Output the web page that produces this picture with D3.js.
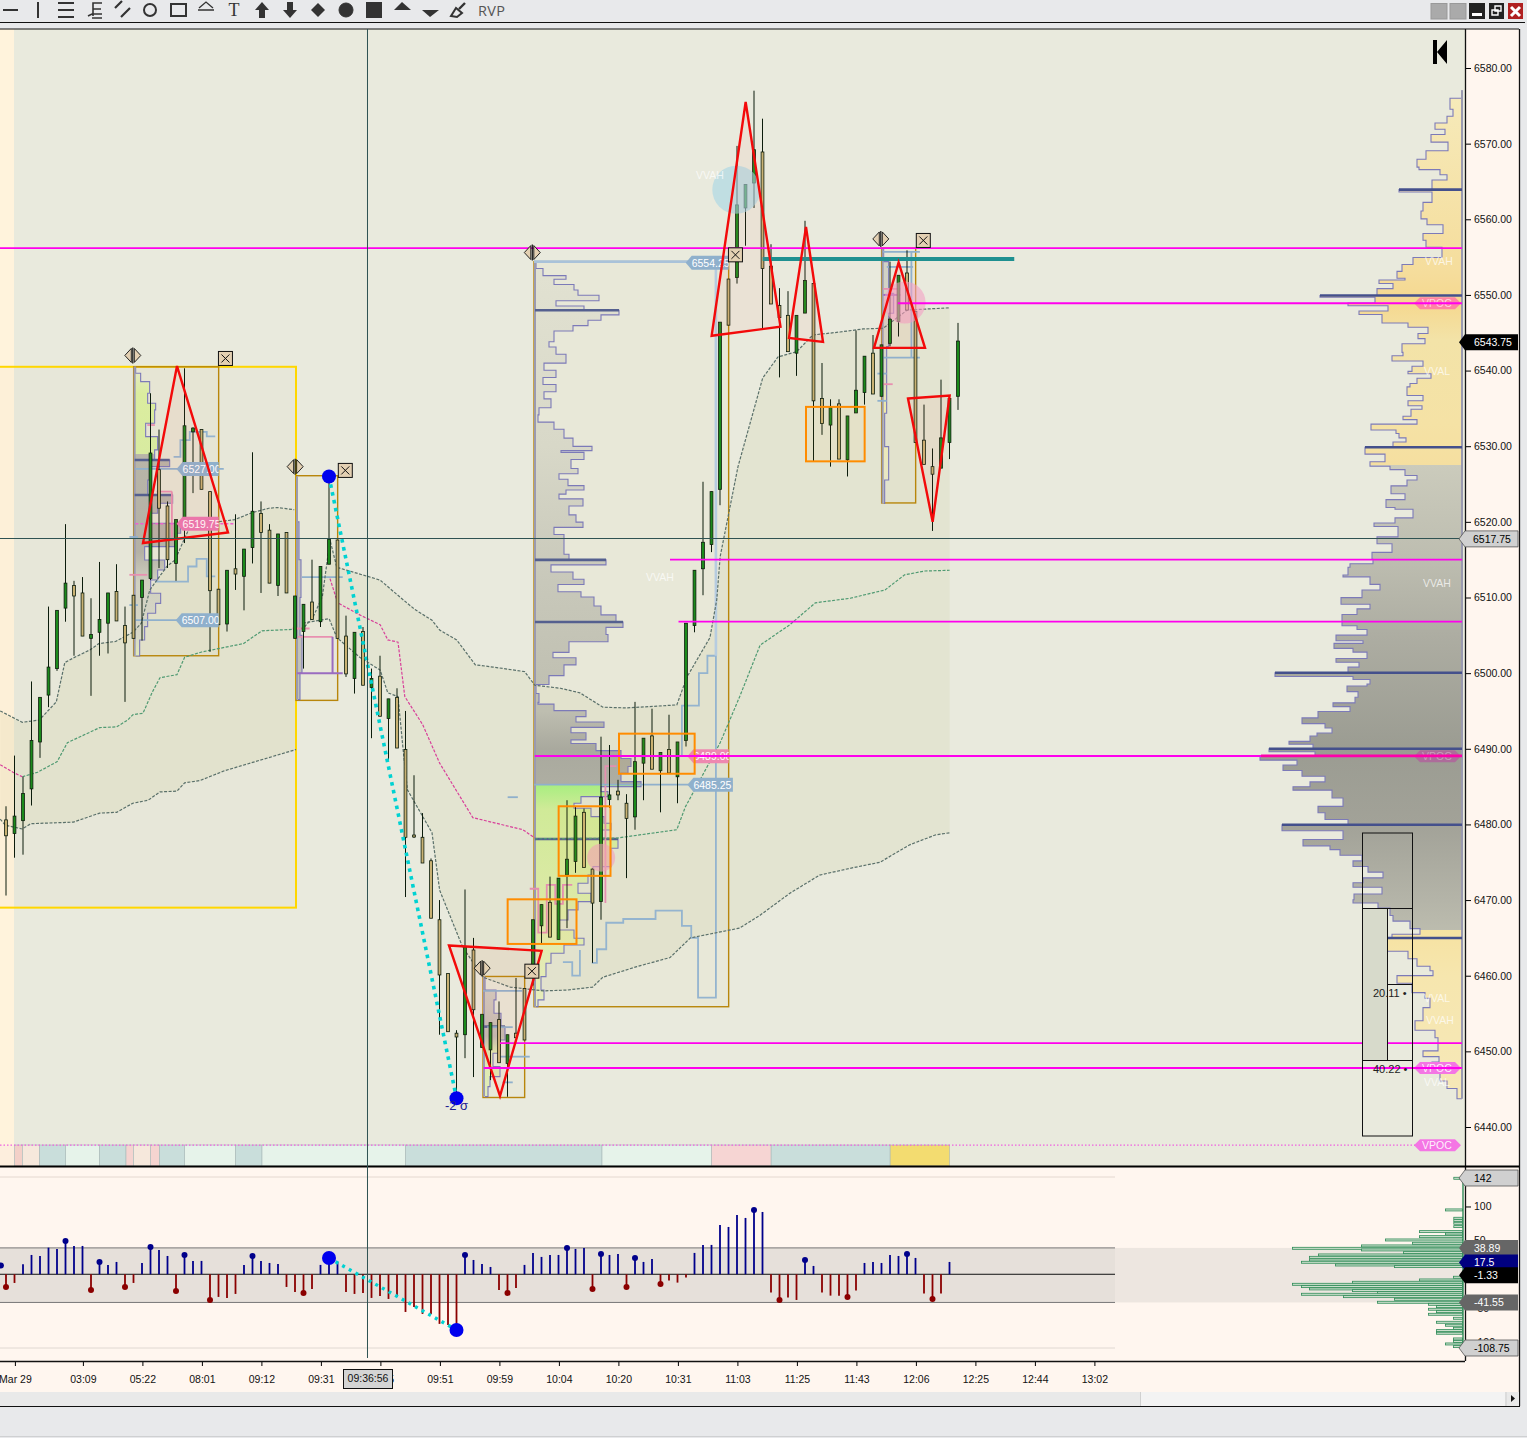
<!DOCTYPE html>
<html><head><meta charset="utf-8">
<script src="https://cdn.jsdelivr.net/npm/d3@7"></script>
<style>html,body{margin:0;padding:0;background:#e8e9eb;overflow:hidden}svg{display:block}text{font-family:"Liberation Sans",Arial,sans-serif}</style>
</head><body><div id="chart"></div>
<script>
// ---------- DATA ----------
const candleHigh=[6482.4,6489.1,6486.3,6498.9,6496.8,6508.8,6508.3,6519.7,6512.2,6512.7,
6509.9,6514.7,6510.6,6514.4,6508.8,6510.3,6512.3,6537.0,6532.2,6522.7,
6520.3,6540.3,6532.5,6532.2,6524.0,6511.1,6513.6,6521.0,6516.4,6529.2,
6522.7,6519.7,6518.4,6518.6,6510.2,6509.1,6515.0,6514.1,6526.0,6517.6,
6507.6,6505.4,6506.1,6500.6,6502.3,6496.6,6498.0,6495.0,6486.5,6481.5,
6475.5,6470.0,6460.3,6452.8,6471.4,6465.0,6454.9,6453.8,6456.6,6452.2,
6459.7,6458.3,6467.4,6469.4,6473.1,6472.9,6483.2,6482.4,6482.1,6474.2,
6491.6,6490.5,6485.9,6484.0,6496.2,6491.4,6495.3,6489.5,6494.5,6490.9,
6506.6,6513.6,6525.3,6524.0,6546.4,6552.1,6569.7,6564.6,6577.0,6573.3,
6556.7,6550.9,6550.5,6547.3,6559.8,6551.5,6541.0,6536.2,6536.2,6534.0,
6545.3,6541.9,6544.7,6543.4,6554.4,6552.6,6555.9,6547.8,6535.5,6529.7,
6538.8,6536.3,6546.3];
const candleBodyTop=[6480.6,6481.1,6484.1,6491.1,6496.8,6500.8,6508.3,6511.9,6511.6,6510.6,
6505.1,6507.1,6510.6,6510.8,6506.3,6510.3,6512.3,6529.1,6526.9,6522.1,
6520.3,6532.7,6532.4,6532.2,6524.0,6511.1,6513.6,6513.8,6516.4,6521.4,
6521.1,6518.9,6518.4,6518.6,6510.2,6509.1,6509.4,6514.1,6517.7,6517.6,
6504.9,6505.4,6505.5,6499.3,6499.6,6496.6,6496.8,6489.9,6478.6,6478.3,
6475.2,6467.4,6460.3,6452.4,6463.8,6463.4,6454.9,6453.8,6454.2,6452.2,
6452.4,6458.3,6467.4,6469.4,6469.7,6472.9,6475.4,6481.1,6481.6,6474.1,
6483.6,6483.9,6484.4,6482.8,6488.3,6491.4,6491.7,6489.5,6489.9,6490.9,
6506.6,6513.6,6517.3,6524.0,6546.4,6552.1,6561.9,6564.6,6569.2,6568.9,
6553.8,6548.6,6547.3,6547.3,6551.9,6551.5,6536.3,6535.1,6535.6,6534.0,
6537.4,6541.9,6542.3,6543.4,6546.8,6552.6,6552.9,6547.8,6530.8,6527.3,
6531.1,6536.3,6543.9];
const candleBodyBottom=[6478.5,6478.8,6480.5,6484.7,6490.9,6497.1,6500.6,6508.6,6510.2,6504.9,
6504.6,6505.4,6506.6,6506.9,6504.0,6504.6,6510.0,6512.5,6521.8,6515.0,
6514.5,6520.5,6531.9,6524.3,6510.9,6506.4,6506.5,6513.1,6512.8,6516.6,
6518.6,6511.9,6511.6,6510.6,6504.6,6505.5,6507.1,6506.8,6514.4,6504.6,
6499.9,6499.3,6498.4,6498.1,6494.3,6494.0,6490.1,6478.3,6478.5,6474.9,
6467.6,6460.1,6452.6,6451.9,6452.2,6455.5,6450.5,6450.2,6448.5,6448.4,
6451.8,6451.5,6461.2,6466.6,6465.1,6464.8,6473.3,6475.1,6474.3,6469.6,
6469.8,6483.3,6483.9,6480.8,6481.0,6488.1,6487.3,6487.1,6486.8,6486.3,
6491.1,6506.3,6513.8,6517.0,6524.3,6546.0,6552.3,6561.5,6564.8,6553.5,
6548.8,6547.0,6542.5,6542.3,6547.6,6536.0,6533.0,6532.8,6528.3,6528.2,
6534.4,6537.1,6536.9,6536.6,6543.6,6546.5,6548.0,6530.5,6527.6,6526.3,
6527.1,6530.5,6536.6];
const candleLow=[6470.6,6475.6,6476.0,6482.5,6488.8,6495.5,6500.3,6506.8,6502.3,6504.9,
6497.0,6502.3,6502.6,6506.9,6496.2,6504.6,6504.3,6512.3,6513.9,6513.9,
6512.2,6517.2,6523.8,6524.3,6502.8,6506.4,6505.5,6511.0,6508.3,6514.5,
6510.6,6511.9,6510.2,6510.6,6504.6,6500.6,6507.1,6506.1,6514.4,6504.6,
6499.5,6497.3,6498.4,6491.4,6494.3,6488.5,6490.1,6470.4,6478.2,6474.9,
6467.6,6452.2,6452.6,6443.8,6449.1,6446.6,6450.5,6446.2,6448.5,6444.0,
6451.8,6451.5,6458.7,6464.3,6465.1,6464.8,6466.3,6473.6,6474.3,6461.7,
6467.4,6482.2,6483.2,6472.9,6479.3,6483.2,6487.3,6481.6,6486.8,6482.8,
6490.3,6505.4,6510.3,6516.0,6522.2,6546.0,6551.5,6556.5,6561.5,6545.6,
6548.8,6539.1,6542.5,6539.3,6547.6,6528.0,6531.5,6527.3,6528.3,6526.0,
6534.4,6535.5,6536.9,6536.6,6543.2,6544.5,6548.0,6530.5,6527.6,6518.8,
6527.1,6528.3,6534.8];
const candleUpIndex=[1,2,3,4,5,6,7,10,11,12,16,17,20,21,22,26,28,29,32,34,35,37,38,41,43,45,54,56,57,59,62,63,65,66,67,70,71,74,75,77,79,80,81,82,83,84,86,87,88,93,94,97,99,100,101,103,104,105,110,111,112];

const histValues=[-18.7,-12.8,14.7,28.5,27,39.3,37.4,49.2,41.8,41.8,
-23.1,18.2,13.8,18.2,-18.7,-12.8,16.7,40.3,35.9,27,
-24.6,28.5,19.7,19.7,-37.9,-33.4,-34.9,-29,13.8,27,
19.7,16.7,15.2,-18.7,-26.1,-27.5,-21.6,13.8,24,18.2,
-26.1,-29,-27.5,-34.9,-32,-36.4,-33,-55.6,-48.2,-58.5,
-58.5,-73.2,-74.7,-82.1,28.5,21.1,15.2,10.8,-23.1,-27.5,
-20.2,13.8,31.5,25.6,28.5,28.5,38.8,37.4,38.8,-21.6,
30,28.5,30,-18.7,24.1,18.2,22.6,-14.3,-9.3,-12.3,
-4.9,31.5,43.3,43.3,72.8,69.8,87.5,83.1,94.9,91.9,
-27,-37.9,-34.4,-37.9,21.1,12.3,-27,-31.5,-31.5,-33.4,
-24.1,16.7,18.2,16.7,28.5,27,30,24.1,-28.5,-36.4,-28.5,18.2];
const histDots=[0,7,10,11,14,17,20,21,24,29,35,54,59,66,69,70,73,74,77,88,91,94,99,106,109];
const swingHigh=38, swingLow=53;

const priceTicks=[6440,6450,6460,6470,6480,6490,6500,6510,6520,6530,6540,6550,6560,6570,6580];
const lowerTicks=[100,50,-50,-100];
const timeTickBars=[1,9,16,23,30,37,44,51,58,65,72,79,86,93,100,107,114,121,128];
const timeTickLabels=["Mar 29","03:09","05:22","08:01","09:12","09:31","09:35","09:51","09:59","10:04","10:20","10:31","11:03","11:25","11:43","12:06","12:25","12:44","13:02"];

const profileRight=[[6577.05,0],[6576,12],[6574.54,9],[6573.63,15],[6572.72,27],[6571.9,17],[6571.2,31],[6570.2,14],[6569.07,36],[6567.93,45],[6566.9,43],[6566.57,22],[6565.88,15],[6565.2,30],[6563.92,63],[6563.6,30],[6562.24,39],[6561.1,41],[6560.05,35],[6559.27,19],[6558.13,39],[6557.22,36],[6556.3,20],[6554.94,49],[6554.03,60],[6553.12,65],[6552.2,57],[6551.98,83],[6551.52,69],[6550.84,85],[6549.93,142],[6549.7,87],[6548.92,114],[6548.56,74],[6547.87,103],[6547.42,80],[6546.28,54],[6545.73,34],[6544.91,44],[6544.23,37],[6543.54,60],[6542.4,59],[6541.95,70],[6541.26,39],[6540.58,50],[6539.9,54],[6539.58,31],[6538.98,45],[6538.3,52],[6537.85,55],[6536.7,39],[6536.02,54],[6535.34,40],[6534.88,51],[6533.97,59],[6533.51,45],[6532.92,91],[6532.14,66],[6531.69,63],[6531.1,56],[6530.55,69],[6529.87,97],[6528.95,77],[6527.95,92],[6527.36,72],[6526.9,57],[6526.13,45],[6525.53,55],[6524.76,71],[6523.71,57],[6522.94,76],[6521.89,67],[6521.66,49],[6520.52,67],[6519.84,88],[6519.38,64],[6518.01,85],[6517.1,70],[6515.96,90],[6515.05,89],[6514,114],[6514.47,112],[6512.98,119],[6512.73,92],[6511.74,82],[6510.99,100],[6509.98,121],[6509.1,92],[6508.5,105],[6507.76,120],[6506.86,120],[6506.27,105],[6505.77,95],[6505.02,126],[6504.28,99],[6503.93,128],[6503.28,109],[6502.78,95],[6501.94,126],[6501.44,103],[6500.79,114],[6500.05,187],[6499.55,109],[6499.15,92],[6498.56,95],[6498.31,115],[6497.56,104],[6496.82,107],[6496.07,129],[6495.57,112],[6494.93,144],[6494.08,160],[6493.33,137],[6492.74,130],[6492.09,145],[6491.69,152],[6490.98,173],[6490.6,149],[6490,193],[6489.6,147],[6489.1,202],[6488.5,165],[6487.86,179],[6487.12,160],[6486.37,137],[6485.62,152],[6484.98,169],[6484.53,130],[6483.49,119],[6482.39,144],[6481.55,137],[6480.65,114],[6479.95,180],[6479.16,119],[6478.01,159],[6477.17,132],[6476.67,122],[6475.92,100],[6475.18,109],[6474.43,94],[6473.69,79],[6472.94,99],[6472.29,109],[6471.7,80],[6470.8,108],[6470.05,109],[6469.61,84],[6468.96,72],[6467.97,69],[6467.22,52],[6466.22,42],[6465.48,70],[6464.98,86],[6464.63,82],[6463.24,54],[6462.25,45],[6461.25,32],[6460.65,29],[6460.01,65],[6459.01,50],[6457.77,37],[6457.02,32],[6455.78,39],[6454.04,47],[6452.79,27],[6451.8,24],[6450.81,24],[6450.06,39],[6449.31,23],[6448.57,30],[6447.32,22],[6446.08,15],[6445.09,5],[6443.74,0]].sort((a,b)=>b[0]-a[0]);
const profileRightPeaks=[[6563.92,63],[6549.93,142],[6529.87,97],[6500.05,187],[6490,193],[6479.95,180],[6464.98,86]];

const profileD=[[6554.34,1],[6553.49,8],[6552.55,31],[6552.08,19],[6551.37,39],[6550.66,43],[6549.95,64],[6549.24,21],[6548.54,49],[6547.97,84],[6547.36,66],[6546.65,53],[6545.94,38],[6545.23,19],[6543.82,14],[6543.11,21],[6542.16,31],[6540.98,9],[6540.04,21],[6539.09,8],[6538.15,21],[6537.21,9],[6536.26,16],[6535.08,4],[6534.14,3],[6533.19,19],[6532.25,29],[6531.07,38],[6529.98,57],[6529.42,26],[6529.18,49],[6528.24,36],[6527.06,43],[6526.35,24],[6525.64,33],[6524.79,49],[6524.22,31],[6523.66,24],[6523.04,48],[6522.1,34],[6520.92,41],[6519.97,48],[6519.27,19],[6518.32,29],[6517.14,29],[6515.72,34],[6514.97,71],[6514.31,16],[6513.37,38],[6512.42,49],[6511.71,23],[6510.77,46],[6510.06,59],[6508.88,66],[6507.7,81],[6506.76,88],[6506.05,71],[6505.1,73],[6504.16,34],[6502.74,18],[6502.03,41],[6501.09,29],[6499.67,14],[6498.49,1],[6497.31,4],[6496.13,3],[6495.9,19],[6495.05,51],[6494.25,41],[6493.54,69],[6492.83,36],[6492.12,51],[6491.18,36],[6490.7,61],[6489.76,86],[6488.72,96],[6487.65,93],[6486.76,86],[6485.66,106],[6485,66],[6484.34,73],[6483.68,46],[6482.8,39],[6482.14,56],[6481.03,69],[6480.15,76],[6479.27,66],[6478.08,83],[6476.85,76],[6475.75,76],[6474.42,58],[6473.32,53],[6472.22,43],[6470.9,56],[6469.8,43],[6468.7,33],[6467.37,23],[6466.05,39],[6464.95,49],[6464.07,29],[6462.97,16],[6461.64,11],[6459.88,6],[6458.12,9],[6456.8,3],[6455.91,1]];
const profileDPeaks=[[6547.97,84],[6514.97,71],[6506.76,88],[6478.08,83]];
const profileA=[[6540.52,1],[6539.64,6],[6538.54,15],[6537,13],[6535.68,21],[6534.8,20],[6533.03,11],[6531.27,23],[6529.51,20],[6528.18,35],[6527.3,15],[6525.54,13],[6523.56,38],[6522.46,23],[6521.13,15],[6519.81,46],[6518.49,40],[6516.73,10],[6514.96,30],[6513.64,23],[6512.32,16],[6510.56,26],[6509.23,21],[6507.91,13],[6506.15,10],[6504.39,5],[6502.27,1]];
const profileAPeaks=[[6528.18,35],[6523.56,38]];
const profileB=[[6526,0],[6520,2],[6515,4],[6510,3],[6505,5],[6500,3],[6496.5,1]];
const profileC=[[6459.88,1],[6458.12,12],[6456.8,10],[6455.03,17],[6453.27,21],[6451.51,16],[6449.74,9],[6447.98,16],[6446.66,6],[6445.34,4],[6444.02,1]];
const profileCPeaks=[[6453.27,21]];
const profileE=[[6556.16,1],[6554.4,6],[6550.2,11],[6547.57,6],[6543.17,4],[6534.35,2],[6529.94,6],[6525.53,2],[6522.45,1]];

const upperBand1=[[-0.6,6495],[2,6493.5],[4,6493.8],[6,6496.2],[7,6501.4],[8,6502],[10,6503.1],[11,6503.9],[13,6504.2],[14,6504.8],[15,6505.4],[16,6506.6],[17,6511],[19,6514.1],[20,6515],[21,6517.6],[22,6520],[25,6520],[27,6520.3],[29,6521.2],[31,6521.8],[32,6521.9],[34,6521.6]];
const upperBand2=[[35.2,6506.1],[36.2,6507.4],[37.3,6510.1],[38.2,6517.6],[39,6514],[44.1,6512.3],[46.8,6509.7],[48.2,6508.4],[50.2,6507],[51.1,6505.7],[53.1,6504.4],[55.3,6501.1],[57.4,6500.8],[61.1,6500.2],[62.3,6498.4],[65.3,6498],[67.6,6497.4],[70.3,6495.5],[73.1,6495.4],[79,6495.8],[80.2,6499.5],[82.9,6504.7],[83.7,6509.7],[84.1,6515.4],[86.2,6527.3],[89.1,6539],[90.9,6541.8],[93.1,6542.5],[95,6544.7],[98.2,6545.1],[100.9,6545.5],[103.3,6545.6],[106.1,6548],[111.1,6548.3]];
const lowerBand2=[[35,6506.6],[38.1,6507.2],[39,6504.7],[41.7,6502.1],[44.1,6500.4],[45,6497.4],[46.2,6496.9],[46.8,6489.9],[47.3,6484.6],[50.2,6478.9],[51.1,6471.3],[53.8,6463.8],[56.2,6459.8],[59.4,6458.5],[63.3,6458],[66.1,6458.1],[69.1,6458.5],[70.3,6459.8],[74.3,6461.2],[78.2,6462.4],[80.6,6465],[86.4,6466.3],[88.8,6468],[92.3,6470.9],[95.8,6473.3],[99.4,6474.2],[102.9,6475],[106.4,6477.3],[109.4,6478.6],[111.1,6478.9]];
const lowerBand1=[[-0.6,6480.7],[0,6479.9],[2,6479.4],[3,6480.1],[8,6480.3],[11.1,6481.5],[13.1,6481.6],[15,6482.8],[16.8,6483.2],[18.2,6484.3],[20.2,6484.4],[21.1,6485.5],[22.9,6485.8],[25.8,6487.1],[34.2,6489.9]];
const midPink1=[[-0.6,6487.9],[0.9,6486.9],[2,6486.3]];
const midGreen1=[[2,6486.3],[3.8,6486.9],[6.1,6488.3],[7.3,6490.8],[11.1,6492.8],[13.1,6492.9],[14.4,6493.8],[15,6494.5],[16.2,6494.7],[17.3,6497.5],[18.2,6499.4],[20.2,6499.8],[21.1,6502.1],[23.1,6502.8],[28,6503.9],[30.2,6505.6],[34.1,6505.8]];
const midPink2=[[38.2,6512.5],[39.1,6509.3],[41.7,6507.7],[44.1,6506.4],[45,6504.4],[46.2,6504.1],[47,6496.9],[49.1,6493.2],[51.1,6488.1],[55,6480.9],[60.9,6479.3],[62.3,6478.2]];
const midGreen2=[[62.3,6478.1],[72,6478.2],[79,6479.3],[80,6482.3],[84.1,6490.8],[86.4,6496.9],[88.8,6503.7],[92.3,6506.4],[95.3,6509.3],[99.4,6509.9],[103.5,6511],[105.8,6513],[108.2,6513.5],[111.1,6513.6]];

const stepBlueA1=[[17.6,6512.1],[21.5,6512.1],[21.5,6514.1],[22.5,6514.1],[22.5,6515.1],[23.7,6515.1],[23.7,6512.8],[24.7,6512.8]];
const stepBlueA2=[[19.8,6528.6],[20.6,6528.6],[20.6,6530.8],[21.7,6530.8],[21.7,6531.9],[23.7,6531.9],[23.7,6531.3],[24.7,6531.3]];
const stepBlueD1=[[65.6,6461.8],[66.7,6461.8],[66.7,6460],[67.6,6460],[67.6,6463.4]];
const stepBlueD2=[[69,6461.7],[69.6,6461.7],[69.6,6463.5],[70.7,6463.5],[70.7,6467],[72.7,6467],[72.7,6467.5],[76.5,6467.5],[76.5,6468.6],[79.6,6468.6],[79.6,6466.6],[80.7,6466.6],[80.7,6465],[81.5,6465],[81.5,6457.1],[83.6,6457.1],[83.6,6502.3],[82.6,6502.3],[82.6,6500],[81.6,6500],[81.6,6495.7],[79.6,6495.7],[79.6,6489.1]];
const stepPinkD1=[[61.7,6471.5],[62.7,6471.5],[62.7,6465.7],[63.7,6465.7],[63.7,6472],[64.7,6472],[64.7,6469.5],[65.6,6469.5],[65.6,6472],[66.7,6472]];
const stepPinkD2=[[70.6,6469.6],[70.6,6487.7],[71.9,6487.7]];
const stepBlueD3=[[83.6,6502.3],[83.6,6554.4]];

// [bar0, price0, bar1, price1]
const blueLevels=[[15.3,6527,25.7,6527],[15.3,6507,25,6507],[14.6,6518,15.6,6518],[14.6,6509,15.6,6509],[62.2,6485.25,85.6,6485.25],[34.9,6512.7,39.7,6512.7],[59.1,6483.6,60.3,6483.6],[103.25,6555.7,107.6,6555.7],[103.7,6553.7,106.8,6553.7],[103.25,6541.7,107.6,6541.7],[102.6,6539.6,103.7,6539.6],[102.6,6536,103.7,6536],[106.6,6555.7,106.6,6541.7],[56.2,6458,60.8,6458],[58.2,6449.3,61.7,6449.3],[58.5,6445.9,59.7,6445.9],[56.7,6453.2,59.7,6453.2]];
const pinkLevels=[[16.7,6532.8,17.6,6532.8],[17.8,6524,19.6,6524],[19.6,6524,19.6,6518],[14.6,6513,16.7,6513],[34.4,6504.8,38.5,6504.8],[103.3,6550.8,105.3,6550.8],[103.3,6538.2,104.4,6538.2]];
const purpleLevels=[[34.3,6500,39.7,6500],[38.5,6504.8,38.5,6500],[103.3,6550,105.3,6550]];
const magentaLevels=[[-1,6556.2],[105.0,6548.9],[78.2,6515],[79.2,6506.8],[62.3,6489.05],[58.2,6451.1],[56.3,6447.8]];
const tealLevel=[89.1,6554.75,118.7];
const crossPrice=6517.75, crossBar=42.61;

const triangles=[[[20.2,6540.6],[16.2,6517.2],[26.2,6518.6]],[[52.2,6464],[63.1,6463.3],[58.2,6444.1]],[[87.1,6575.5],[83.1,6544.6],[91.2,6545.8]],[[94.2,6559],[92.2,6544.3],[96.2,6543.8]],[[105.1,6554.3],[102.2,6543],[108.2,6543]],[[106.2,6536.3],[111.1,6536.7],[109.1,6520]]];
const sessionBoxes=[[15.1,25.1,6540.5,6502.3],[34.2,39.1,6526.1,6496.4],[56.2,61.1,6459.9,6443.9],[62.2,85.1,6554.4,6455.9],[103.1,107.1,6556.2,6522.5]];
const zoneBoxes=[[59.1,67.2,6470.1,6464.2],[65.1,71.2,6482.4,6473.2],[72.2,81.1,6492,6486.7],[94.2,101.1,6535.2,6528]];
const goldBox=[-0.8,34.2,6540.5,6469];
const sessionAnchors=[[15,6542],[34.1,6527.3],[62,6555.6],[56.1,6461],[103,6557.4]];
const closeAnchors=[[25.9,6541.6],[40,6526.8],[85.9,6555.3],[61.95,6460.6],[108,6557.2]];
const circles=[[86,6563.9,"#a5d5e6",24],[105.8,6549,"#f4a0c4",21],[70.1,6475.6,"#f2a0bc",14]];
const priceTags=[[20.5,25.1,6527,"6527.00","#8fb0cc"],[20.5,25.1,6519.75,"6519.75","#ea78b0"],[20.4,25.1,6507,"6507.00","#8fb0cc"],[80.4,85.1,6554.25,"6554.25","#8fb0cc"],[80.6,85.1,6489,"6489.00","#ee88b0"],[80.6,85.6,6485.25,"6485.25","#8fb0cc"]];
const vTexts=[["VVAH",6554.5,1439],["VVAL",6540,1437],["VVAH",6511.9,1437],["VVAL",6457,1437],["VVAH",6454.2,1440],["VVAL",6446,1437],["VVAH",6565.8,710],["VVAH",6512.7,660]];
const vpocTags=[[6548.9,"#ff84a4",.65],[6489,"#ad6c9a",.35],[6447.8,"#f476e4",.9],[6437.6,"#f476e4",.9]];
const stripEdges=[1.06,2,4.03,7.1,11.1,14.2,15.07,17.07,18.15,21.1,27.1,30.2,47.07,70.2,83.07,90.1,104.1,111.1];
const stripColors=["#f3d0c8","#f6e8dc","#c9dedb","#e6f3ea","#c9dedb","#f5d4d0","#f6e8dc","#f5d4d0","#c9dedb","#e6f3ea","#c9dedb","#e6f3ea","#c9dedb","#e6f3ea","#f6d5d3","#c9dedb","#f3dc70"];
const lowerTags=[[142,"142","#d0d0d0","#000"],[38.89,"38.89","#666","#fff"],[17.5,"17.5","#000080","#fff"],[-1.33,"-1.33","#000","#fff"],[-41.55,"-41.55","#666","#fff"],[-108.75,"-108.75","#d0d0d0","#000"]];
const lowerProfile=[[141.6,8.7],[94.9,17],[82.6,8.7],[79.1,8.7],[75.2,8.7],[70.3,8.7],[62.9,43],[59.5,17],[55.5,43],[50.6,77],[45.7,50],[41.8,101],[38.3,170],[35.9,101],[31.9,59],[28.5,144],[25,153],[21.1,153],[17.7,161],[13.7,127],[11.3,68],[-4.4,9],[-8.4,43],[-11.8,110],[-14.8,170],[-18.2,161],[-21.6,153],[-24.1,110],[-27.1,85],[-29.5,161],[-33,119],[-36.9,68],[-41.3,85],[-44.3,34],[-47.7,26],[-51.6,34],[-55.1,26],[-59,34],[-64.9,9],[-70.8,26],[-75.2,17],[-79.7,9],[-83.1,26],[-87,26],[-95.4,9],[-99.3,9],[-102.8,17],[-106.7,9]];

// ---------- SCALES ----------
const W=1527,H=1438;
const x=d3.scaleLinear().domain([0,112]).range([5.3,5.3+8.5*112]);      // overlays and drawing tools
const xBar=d3.scaleLinear().domain([0,112]).range([6,6+8.5*112]);       // candle and histogram centres
const y=d3.scaleLinear().domain([6440,6580]).range([1127,68]);
const yL=d3.scaleLinear().domain([-108.75,142]).range([1348,1178]);
const svg=d3.select("#chart").append("svg").attr("width",W).attr("height",H).attr("viewBox",`0 0 ${W} ${H}`);
const defs=svg.append("defs");
const FONT=10.5;
const rect=(g,a,b,c,d,f)=>g.append("rect").attr("x",a).attr("y",b).attr("width",c).attr("height",d).attr("fill",f);
const hline=(g,x0,x1,yy,c,w)=>g.append("line").attr("x1",x0).attr("x2",x1).attr("y1",yy).attr("y2",yy).attr("stroke",c).attr("stroke-width",w);
const vline=(g,xx,y0,y1,c,w)=>g.append("line").attr("x1",xx).attr("x2",xx).attr("y1",y0).attr("y2",y1).attr("stroke",c).attr("stroke-width",w);

// ---------- CHROME ----------
rect(svg,0,0,W,H,"#e8e9eb");
hline(svg,0,1525,22.5,"#111",1.2);
rect(svg,0,29,1465,1137,"#e9eadd");
rect(svg,1465,29,54,1377,"#fff6ef");
rect(svg,0,1167,1465,239,"#fff6ef");
rect(svg,0,29,14,1116,"#fff3dc");
hline(svg,0,1519,29,"#111",1);
vline(svg,1519.5,29,1406,"#111",1.3);
hline(svg,0,1520,1406.5,"#111",1);
hline(svg,0,1527,1436.5,"#cfd0d2",1);

// toolbar
const tb=svg.append("g").attr("fill","#333").attr("stroke","#333");
const sk=(d,w=2)=>tb.append("path").attr("d",d).attr("fill","none").attr("stroke-width",w);
const fl=d=>tb.append("path").attr("d",d).attr("stroke","none");
sk("M3 10H18");sk("M38 2V18");sk("M58 3H74M58 10H74M58 17H74");
sk("M88 16L92 14H102M93 16V3H102M93 9H101M92 18H102",1.6);
sk("M115 8L122 1M121 17L130 8",2.2);
tb.append("circle").attr("cx",150).attr("cy",10).attr("r",6).attr("fill","none").attr("stroke-width",2);
tb.append("rect").attr("x",171).attr("y",4).attr("width",15).attr("height",12).attr("fill","none").attr("stroke-width",2);
sk("M199 8L206 2L213 8M198 10H214",1.3);
tb.append("text").attr("x",234).attr("y",16).attr("text-anchor","middle").attr("font-size",18).attr("stroke","none").style("font-family","Liberation Serif").text("T");
fl("M262 2L269 10H265V18H259V10H255Z");fl("M290 18L283 10H287V2H293V10H297Z");
fl("M318 3L325 10L318 17L311 10Z");tb.append("circle").attr("cx",346).attr("cy",10).attr("r",7);
tb.append("rect").attr("x",366).attr("y",2).attr("width",16).attr("height",16).attr("stroke","none");
fl("M394 10L402 2L411 10Z");fl("M422 10L439 10L430 17Z");
sk("M451 16L456 8L462 13L457 17Z",2);sk("M459 9L465 3",2.4);
tb.append("text").attr("x",478).attr("y",16).attr("font-size",14.5).attr("letter-spacing",.3).attr("stroke","none").attr("fill","#555").style("font-family","Open Sans").text("RVP");
[[1431,"#aaa"],[1450,"#aaa"]].forEach(b=>svg.append("rect").attr("x",b[0]).attr("y",3.5).attr("width",16).attr("height",15.5).attr("fill",b[1]).attr("stroke","#999"));
rect(svg,1469,3,16,16,"#222");rect(svg,1472,13,10,3,"#fff");
rect(svg,1489,3,15,16,"#222");
svg.append("path").attr("d","M1495 6h6v5h-6zM1492 10h6v5h-6z").attr("fill","#222").attr("stroke","#fff").attr("stroke-width",1.4);
rect(svg,1508,3,15,16,"#b02020");
svg.append("path").attr("d","M1511 7L1520 16M1520 7L1511 16").attr("stroke","#fff").attr("stroke-width",3);

// ---------- MAIN PANE ----------
const main=svg.append("g");
defs.append("clipPath").attr("id","paneClip").append("rect").attr("x",0).attr("y",29).attr("width",1465).attr("height",1137);
main.attr("clip-path","url(#paneClip)");

// area between session bands
const pathLine=d3.line().x(d=>x(d[0])).y(d=>y(d[1]));
[[upperBand1,lowerBand1],[upperBand2,lowerBand2]].forEach(b=>
  main.append("path").datum(b[0].concat(b[1].slice().reverse())).attr("d",pathLine).attr("fill","rgba(190,190,130,0.13)"));

// time strip
stripColors.forEach((c,i)=>{rect(main,x(stripEdges[i]),1145,x(stripEdges[i+1])-x(stripEdges[i]),21,c)
  .attr("stroke","#a8b8b8").attr("stroke-width",0.6);});
rect(main,0,1145,14,21,"#fdeedd");

// gold box
const box=(g,b,c,w,f)=>g.append("rect").attr("x",x(b[0])).attr("y",y(b[2])).attr("width",x(b[1])-x(b[0])).attr("height",y(b[3])-y(b[2])).attr("fill",f).attr("stroke",c).attr("stroke-width",w);
box(main,goldBox,"#ffd700",2,"rgba(200,190,120,0.04)");
sessionBoxes.forEach(b=>box(main,b,"#b8860b",1.4,"rgba(215,190,130,0.05)"));

// profiles
function gradient(id,stops){
  const g=defs.append("linearGradient").attr("id",id).attr("gradientUnits","userSpaceOnUse").attr("x1",0).attr("x2",0).attr("y1",y(6580)).attr("y2",y(6440));
  stops.forEach(s=>g.append("stop").attr("offset",(y(s[0])-y(6580))/(y(6440)-y(6580))).attr("stop-color",s[1]));
}
gradient("gradRight",[[6578,"#f6ebbc"],[6553,"#f5dd9c"],[6549,"#f5d88f"],[6544,"#f3e3a8"],[6533,"#f5e2a5"],[6527.5,"#f5dfa0"],[6527.49,"#cbcbbc"],[6515,"#bdbdb0"],[6505,"#adada2"],[6490,"#9b9c92"],[6480,"#a2a298"],[6470,"#b4b4a8"],[6466,"#bcbcae"],[6465.99,"#f6e2a2"],[6460,"#f6e6ae"],[6444,"#f6e8b8"]]);
gradient("gradD",[[6555,"#e2e2d2"],[6530,"#d8d8c8"],[6512,"#c8c8ba"],[6495,"#bebeb0"],[6490,"#a9a99e"],[6485.3,"#aeaea2"],[6485.25,"#a8ee80"],[6482,"#d0ea98"],[6470,"#dce9a6"],[6456,"#e8edbc"]]);
gradient("gradA",[[6541,"#e8e8d0"],[6537,"#dbed9f"],[6529,"#d8eba0"],[6528.9,"#b8b5a8"],[6516,"#b4b1a6"],[6512,"#d0d0c0"],[6505,"#d8d8c8"],[6502,"#e4ecb5"]]);
gradient("gradB",[[6527,"#c8c8bc"],[6496,"#c0c0b4"]]);
gradient("gradC",[[6460,"#d6d0c6"],[6452,"#c2bcb2"],[6450,"#dde8b0"],[6444,"#e2edb8"]]);
gradient("gradE",[[6557,"#d0d0c4"],[6540,"#d8d8c8"],[6535,"#f0eaa8"],[6522,"#e6e6d0"]]);
function profile(rows,baseX,dir,gradId,peaks,peakColor){
  const vx=v=>baseX+dir*v;
  const area=d3.area().curve(d3.curveStepBefore).y(d=>y(d[0])).x0(baseX).x1(d=>vx(d[1]));
  const line=d3.line().curve(d3.curveStepBefore).y(d=>y(d[0])).x(d=>vx(d[1]));
  main.append("path").datum(rows).attr("d",area).attr("fill",`url(#${gradId})`);
  main.append("path").datum(rows).attr("d",line).attr("fill","none").attr("stroke","#7c7ab8").attr("stroke-width",1.1);
  vline(main,baseX,y(rows[0][0]),y(rows[rows.length-1][0]),"#9a9ab0",2);
  (peaks||[]).forEach(p=>hline(main,baseX,vx(p[1]),y(p[0]),peakColor||"#4a5690",2.6));
}
profile(profileRight,1462,-1,"gradRight",profileRightPeaks,"#44508c");
profile(profileD,x(62.2)+1,1,"gradD",profileDPeaks,"#55608f");
profile(profileA,x(15.1)+1,1,"gradA",profileAPeaks,"#55608f");
profile(profileB,x(34.2)+1,1,"gradB");
profile(profileC,x(56.2)+1,1,"gradC",profileCPeaks,"#55608f");
profile(profileE,x(103.1)+1,1,"gradE");

// value-area style steps and level lines
const stroke=(g,d,c,w,dash)=>g.append("path").datum(d).attr("d",pathLine).attr("fill","none").attr("stroke",c).attr("stroke-width",w).attr("stroke-dasharray",dash||null);
[stepBlueA1,stepBlueA2,stepBlueD1,stepBlueD2].forEach(d=>stroke(main,d,"#94b4cf",1.8));
stroke(main,stepBlueD3,"#b6cce0",2.6);
stroke(main,[[62.2,6554.4],[85,6554.4]],"#a9c2d9",2.6);
[stepPinkD1,stepPinkD2].forEach(d=>stroke(main,d,"#e48fb0",1.8));
blueLevels.forEach(l=>stroke(main,[[l[0],l[1]],[l[2],l[3]]],"#8fb0cc",1.8));
pinkLevels.forEach(l=>stroke(main,[[l[0],l[1]],[l[2],l[3]]],"#e890b0",1.8));
purpleLevels.forEach(l=>stroke(main,[[l[0],l[1]],[l[2],l[3]]],"#9a6cc0",2));
stroke(main,[[15.3,6519.75],[27,6519.75]],"#f05fd0",1.6,"3 2");
stroke(main,[[33.8,6505.9],[35.8,6505.9]],"#e890b0",2);

// dashed bands
const bandDash="3 1.5";
[upperBand1,upperBand2,lowerBand2,lowerBand1].forEach(d=>stroke(main,d,"#5a706a",1.2,bandDash));
[midGreen1,midGreen2].forEach(d=>stroke(main,d,"#4f9a72",1.2,bandDash));
[midPink1,midPink2].forEach(d=>stroke(main,d,"#d8409a",1.2,bandDash));

// candles
const cg=main.append("g");
const idx=d3.range(candleHigh.length);
cg.selectAll("line.w").data(idx).join("line").attr("x1",i=>xBar(i)).attr("x2",i=>xBar(i)).attr("y1",i=>y(candleHigh[i])).attr("y2",i=>y(candleLow[i])).attr("stroke","#0c1c0c").attr("stroke-width",1);
cg.selectAll("rect.b").data(idx).join("rect").attr("x",i=>xBar(i)-1.4).attr("width",2.8)
  .attr("y",i=>y(candleBodyTop[i])).attr("height",i=>Math.max(2,y(candleBodyBottom[i])-y(candleBodyTop[i])))
  .attr("fill",i=>candleUpIndex.includes(i)?"#1b8a1b":"#c9b274").attr("stroke","#0c1c0c").attr("stroke-width",.8);

// translucent circles sit over the candles
circles.forEach(c=>main.append("circle").attr("cx",x(c[0])).attr("cy",y(c[1])).attr("r",c[3]).attr("fill",c[2]).attr("opacity",.6));

// price tags inside sessions
priceTags.forEach((t,i)=>{
  const x0=x(t[0]),x1=x(t[1]),yy=y(t[2]);
  defs.append("clipPath").attr("id","tc"+i).append("rect").attr("x",x0-8).attr("y",yy-9).attr("width",x1-x0+8).attr("height",18);
  const g=main.append("g").attr("clip-path",`url(#tc${i})`);
  g.append("path").attr("d",`M${x0-3} ${yy}L${x0+3} ${yy-7}H${x1+2}V${yy+7}H${x0+3}Z`).attr("fill",t[4]);
  g.append("text").attr("x",x0+3).attr("y",yy+4).attr("font-size",FONT).attr("fill","#fff").text(t[3]);
});

// zones
zoneBoxes.forEach(b=>box(main,b,"#ff8c00",2,"rgba(255,170,40,0.05)"));

// VPOC tags under the magenta levels
vpocTags.forEach(t=>{
  const yy=y(t[0]);
  main.append("path").attr("d",`M1414 ${yy}L1420 ${yy-6}H1455L1461 ${yy}L1455 ${yy+6}H1420Z`).attr("fill",t[1]);
  main.append("text").attr("x",1437).attr("y",yy+4).attr("text-anchor","middle").attr("font-size",FONT).attr("fill",`rgba(255,255,255,${t[2]})`).text("VPOC");
});

// magenta levels
magentaLevels.forEach(l=>hline(main,l[0]<0?0:x(l[0]),1462,y(l[1]),"#ff00ee",l[1]==6489.05||l[1]==6447.8?2:1.8));
hline(main,1261,1462,y(6489.05),"#ff00aa",2.8);
hline(main,x(tealLevel[0]),x(tealLevel[2]),y(tealLevel[1]),"#1e9090",4.2);

// triangles
const triLine=d3.line().x(d=>x(d[0])).y(d=>y(d[1])).curve(d3.curveLinearClosed);
triangles.forEach(t=>main.append("path").datum(t).attr("d",triLine).attr("fill","rgba(255,110,80,0.06)").attr("stroke","#f30a0a").attr("stroke-width",2.4).attr("stroke-linejoin","miter"));

// anchors
sessionAnchors.forEach(a=>{
  const g=main.append("g").attr("transform",`translate(${x(a[0])},${y(a[1])})`);
  g.append("path").attr("d","M-1.5 -7L-8 0L-1.5 7ZM1.5 -7L8 0L1.5 7Z").attr("fill","#e3d0b2").attr("stroke","#111").attr("stroke-width",.9);
  g.append("path").attr("d","M0 -8V8").attr("stroke","#111").attr("stroke-width",1.2);
});
closeAnchors.forEach(a=>{
  const g=main.append("g").attr("transform",`translate(${x(a[0])},${y(a[1])})`);
  g.append("rect").attr("x",-7).attr("y",-7).attr("width",14).attr("height",14).attr("fill","#e3d0b2").attr("stroke","#111");
  g.append("path").attr("d","M-4 -4L4 4M4 -4L-4 4").attr("stroke","#111").attr("stroke-width",1);
});

// right volume boxes
const tool=main.append("g");
const bx=(a,b,c,d,f)=>tool.append("rect").attr("x",a).attr("y",b).attr("width",c).attr("height",d).attr("fill",f||"none").attr("stroke","#111").attr("stroke-width",1);
bx(1362.5,833,50,303);
bx(1362.5,908.5,25,152,"#d7dacb");
bx(1387.5,908.5,25,76);
hline(tool,1387.5,1412.5,984.5,"#111",1);
hline(tool,1362.5,1412.5,1060.5,"#111",1);
tool.append("text").attr("x",1373).attr("y",997).attr("font-size",FONT+.5).attr("fill","#222").text("20.11 •");
tool.append("text").attr("x",1373).attr("y",1073).attr("font-size",FONT+.5).attr("fill","#222").text("40.22 •");

// faint labels
hline(main,0,1415,y(6437.6),"#f060e0",1.4).attr("stroke-dasharray","1.5 2");
hline(main,x(56.3),x(60),y(6447.8),"#ff00ee",1.8);
vTexts.forEach(t=>main.append("text").attr("x",t[2]).attr("y",y(t[1])+4).attr("text-anchor","middle").attr("font-size",FONT).attr("fill","rgba(255,255,255,.72)").text(t[0]));

// swing marker
const swing=[[swingHigh,candleHigh[swingHigh]],[swingLow,candleLow[swingLow]]];
const swingLine=d3.line().x(d=>xBar(d[0])).y(d=>y(d[1]));
main.append("path").datum(swing).attr("d",swingLine).attr("fill","none").attr("stroke","#00d2d2").attr("stroke-width",3.6).attr("stroke-dasharray","3.6 4.4");
swing.forEach(s=>main.append("circle").attr("cx",xBar(s[0])).attr("cy",y(s[1])).attr("r",7).attr("fill","#0000ee"));
main.append("text").attr("x",xBar(swingLow)).attr("y",y(candleLow[swingLow])+12).attr("text-anchor","middle").attr("font-size",13).attr("fill","#202090").text("-2 σ");

// replay marker
main.append("path").attr("d","M1433 40h4v24h-4zM1447 40v24l-10 -12z").attr("fill","#000");

// ---------- LOWER PANE ----------
const low=svg.append("g");
rect(low,0,yL(38.89),1115,yL(-41.55)-yL(38.89),"#e6e0da");
rect(low,1115,yL(38.89),350,yL(-41.55)-yL(38.89),"#ede6e0");
hline(low,0,1115,yL(142)-1,"#e4d8d0",1);hline(low,0,1115,yL(-108.75),"#e0d8d2",1);
hline(low,0,1115,yL(38.89),"#777",1);hline(low,0,1115,yL(-41.55),"#777",1);
hline(low,0,1115,yL(0),"#111",1);

// lower profile
low.selectAll("rect.lp").data(lowerProfile).join("rect").attr("x",d=>1462.5-d[1]).attr("width",d=>d[1]).attr("y",d=>yL(d[0])-1).attr("height",2)
  .attr("fill","#cde0cd").attr("stroke","#2e8b57").attr("stroke-width",.8);
vline(low,1463,yL(142),yL(-108.75),"#2e8b57",1.4);

// histogram
const hcol=v=>v>=0?"#00008b":"#8b0000";
low.selectAll("line.h").data(histValues).join("line").attr("x1",(v,i)=>xBar(i)).attr("x2",(v,i)=>xBar(i)).attr("y1",yL(0)).attr("y2",v=>yL(v)).attr("stroke",hcol).attr("stroke-width",1.8);
low.selectAll("circle.d").data(histDots).join("circle").attr("cx",i=>xBar(i)).attr("cy",i=>yL(histValues[i])).attr("r",3).attr("fill",i=>hcol(histValues[i]));
low.append("circle").attr("cx",xBar(-0.6)).attr("cy",yL(13)).attr("r",3).attr("fill","#00008b");
const swingL=[[swingHigh,histValues[swingHigh]],[swingLow,histValues[swingLow]]];
low.append("path").datum(swingL).attr("d",d3.line().x(d=>xBar(d[0])).y(d=>yL(d[1]))).attr("stroke","#00d2d2").attr("stroke-width",3.4).attr("stroke-dasharray","3 4.6");
swingL.forEach(s=>low.append("circle").attr("cx",xBar(s[0])).attr("cy",yL(s[1])).attr("r",7).attr("fill","#0000ee"));

// axes
const clean=g=>g.select(".domain").remove();
const yAxis=d3.axisRight(y).tickValues(priceTicks).tickFormat(d=>d.toFixed(2)).tickSize(5).tickPadding(3);
svg.append("g").attr("transform","translate(1466,0)").call(yAxis).call(clean).call(g=>g.selectAll("text").attr("font-size",FONT).attr("fill","#111").style("font-family","Liberation Sans"));
const yLAxis=d3.axisRight(yL).tickValues(lowerTicks).tickFormat(d=>d).tickSize(5).tickPadding(3);
svg.append("g").attr("transform","translate(1466,0)").call(yLAxis).call(clean).call(g=>g.selectAll("text").attr("font-size",FONT).attr("fill","#111").style("font-family","Liberation Sans"));
const xT=d3.scaleLinear().domain(xBar.domain()).range(xBar.range().map(v=>v+.4));
const tickLabel=new Map(timeTickBars.map((b,i)=>[b,timeTickLabels[i]]));
const xAxis=d3.axisBottom(xT).tickValues(timeTickBars).tickFormat(b=>tickLabel.get(b)).tickSize(5).tickSizeOuter(0).tickPadding(10);
svg.append("g").attr("transform","translate(0,1361)").call(xAxis).call(clean).call(g=>g.selectAll("text").attr("font-size",FONT).attr("fill","#111").style("font-family","Liberation Sans"));
hline(svg,0,1465,1361.5,"#111",1.3);
vline(svg,1465.5,29,1361,"#111",1.3);
hline(svg,0,1519,1166.5,"#000",2);

// crosshair
vline(svg,x(crossBar),29,1358,"#2f5252",1);
hline(svg,0,1465,Math.floor(y(crossPrice))+.5,"#2f5252",1);

// axis tags
function axisTag(yy,label,fill,color,tx){
  svg.append("path").attr("d",`M1459 ${yy}L1465 ${yy-8}H1518V${yy+8}H1465Z`).attr("fill",fill).attr("stroke",fill=="#d0d0d0"?"#555":"none").attr("stroke-width",.8);
  svg.append("text").attr("x",tx||1474).attr("y",yy+4).attr("font-size",FONT).attr("fill",color).text(label);
}
axisTag(y(6543.75),"6543.75","#000","#fff");
axisTag(y(crossPrice),"6517.75","#d0d0d0","#000",1473);
lowerTags.forEach(t=>axisTag(yL(t[0]),t[1],t[2],t[3]));

// time tag
svg.append("rect").attr("x",343.5).attr("y",1369.5).attr("width",49).attr("height",19).attr("fill","#d4d4d4").attr("stroke","#111");
svg.append("text").attr("x",368).attr("y",1382).attr("text-anchor","middle").attr("font-size",FONT).attr("fill","#111").text("09:36:56");

// scrollbar
rect(svg,0,1392,1519,14,"#e9e9e9");
rect(svg,1140,1392,365,14,"#f3f3f3");
vline(svg,1140.5,1392,1406,"#d0d0d0",1);vline(svg,1506,1392,1406,"#cfcfcf",1);
svg.append("path").attr("d","M1511 1395v7l4 -3.5z").attr("fill","#111");
hline(svg,0,1519,1406.5,"#111",1);
</script></body></html>
